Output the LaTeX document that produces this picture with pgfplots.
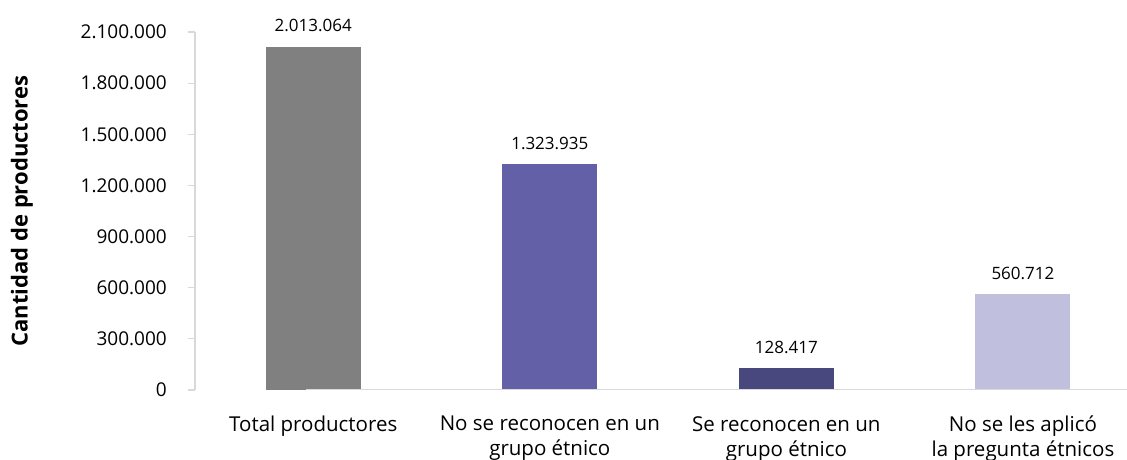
\documentclass[border=0pt]{standalone}
\usepackage{pgfplots}
\pgfplotsset{compat=1.18}
\usepackage{fontspec}
\setmainfont{Open Sans}
\definecolor{bar-total}{HTML}{808080}
\definecolor{bar-no}{HTML}{6460A8}
\definecolor{bar-si}{HTML}{48487E}
\definecolor{bar-na}{HTML}{C0C0DE}
\definecolor{ax-line}{HTML}{D9D9D9}
\definecolor{txt}{HTML}{000000}

\begin{document}
\begin{tikzpicture}
\useasboundingbox (-195pt,-70pt) rectangle (932pt,390pt);
\begin{axis}[
    scale only axis,
    width=932pt, height=358pt,
    xmin=-0.5, xmax=3.44,
    ymin=0, ymax=2100000,
    ybar, bar width=95pt, bar shift=0pt,
    axis lines*=left,
    axis line style={draw=ax-line, line width=1.2pt},
    x axis line style={draw=none},
    ytick={0,300000,...,2100000},
    scaled y ticks=false,
    xtick={0,1,2,3},
    xticklabels={Total productores, {No se reconocen en un\\grupo étnico}, {Se reconocen en un\\grupo étnico}, {No se les aplicó\\la pregunta étnicos}},
    xtick style={draw=none},
    ytick style={draw=ax-line, line width=1.2pt},
    tick align=outside,
    major tick length=7pt,
    /pgf/number format/.cd, fixed, 1000 sep={.}, assume math mode=true,
    /pgfplots/.cd,
    yticklabel style={font=\fontsize{19}{23}\selectfont, text=txt, inner sep=0pt, xshift=-21pt},
    xticklabel style={font=\fontsize{20.5}{25}\selectfont, text=txt, align=center, inner sep=0pt, yshift=-19pt},
    ylabel={\bfseries Cantidad de productores},
    ylabel style={font=\fontsize{22}{26}\selectfont, text=txt, at={(axis description cs:-0.1856,0.5)}, anchor=center},
    nodes near coords,
    every node near coord/.append style={font=\fontsize{17}{20}\selectfont, text=txt, anchor=base, yshift=15pt, inner sep=0pt},
]
\addplot[fill=bar-total, draw=none] coordinates {(0,2013064)};
\addplot[fill=bar-no, draw=none] coordinates {(1,1323935)};
\addplot[fill=bar-si, draw=none] coordinates {(2,128417)};
\addplot[fill=bar-na, draw=none] coordinates {(3,560712)};
\draw[draw=ax-line, line width=1.2pt] (rel axis cs:0,0) ++(-7pt,0) -- (rel axis cs:1,0);
\end{axis}
\end{tikzpicture}
\end{document}
